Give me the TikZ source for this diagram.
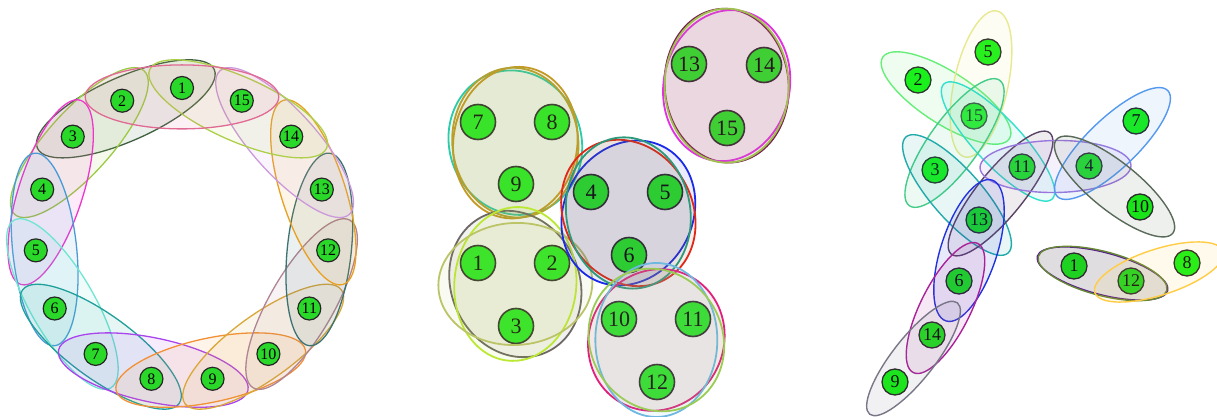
\documentclass[tikz,border=0pt]{standalone}
\usepackage{fontspec}
\setmainfont{Liberation Serif}
\usetikzlibrary{calc}

\pgfdeclarelayer{behind}
\pgfsetlayers{behind,main}

% vertex greens
\definecolor{ringgreen}{HTML}{2AD82A}
\definecolor{clustergreen}{HTML}{1EF61E}
\definecolor{spreadgreen}{HTML}{12F212}

% ring: edge k holds k, k+1, k+2
\definecolor{ringe1}{HTML}{3F6040}
\definecolor{ringe2}{HTML}{9BCB44}
\definecolor{ringe3}{HTML}{EE38CC}
\definecolor{ringe4}{HTML}{4A9AD8}
\definecolor{ringe5}{HTML}{6EE6D2}
\definecolor{ringe6}{HTML}{1FA09A}
\definecolor{ringe7}{HTML}{AA44EE}
\definecolor{ringe8}{HTML}{F39035}
\definecolor{ringe9}{HTML}{D9A838}
\definecolor{ringe10}{HTML}{B08494}
\definecolor{ringe11}{HTML}{3D7272}
\definecolor{ringe12}{HTML}{E8A020}
\definecolor{ringe13}{HTML}{CC99DD}
\definecolor{ringe14}{HTML}{AECF4A}
\definecolor{ringe15}{HTML}{E06A94}

% clusters
\definecolor{cA1}{HTML}{2CCCAA}
\definecolor{cA2}{HTML}{C49A26}
\definecolor{cA3}{HTML}{B6A030}
\definecolor{cB1}{HTML}{6E6864}
\definecolor{cB2}{HTML}{BBE833}
\definecolor{cB3}{HTML}{BCC468}
\definecolor{cC1}{HTML}{1A2AE8}
\definecolor{cC2}{HTML}{E02818}
\definecolor{cC3}{HTML}{2A9A7A}
\definecolor{cD1}{HTML}{E0207A}
\definecolor{cD2}{HTML}{70B8E0}
\definecolor{cD3}{HTML}{9ACC55}
\definecolor{cE1}{HTML}{7A2050}
\definecolor{cE2}{HTML}{E030E0}
\definecolor{cE3}{HTML}{A0C050}

% spread pairs
\definecolor{s1}{HTML}{66EE77}
\definecolor{s2}{HTML}{E8E890}
\definecolor{s3}{HTML}{33E0CC}
\definecolor{s4}{HTML}{44CC88}
\definecolor{s5}{HTML}{22AAAA}
\definecolor{s6}{HTML}{5A4466}
\definecolor{s7}{HTML}{9977DD}
\definecolor{s8}{HTML}{5599EE}
\definecolor{s9}{HTML}{5A6A5A}
\definecolor{s10}{HTML}{2233DD}
\definecolor{s11}{HTML}{AA2299}
\definecolor{s12}{HTML}{777788}
\definecolor{s13}{HTML}{551199}
\definecolor{s14}{HTML}{668833}
\definecolor{s15}{HTML}{FFCC44}

% ellipse round a, m, b (ends a and b)
\newcommand*{\tripleedge}[4]{%
	\path[ringedge=#1] let \p1=(#2), \p2=(#4),
		\n1={atan2(\y2-\y1,\x2-\x1)}, \n2={veclen(\x2-\x1,\y2-\y1)/2+37pt}
		in ($(#2)!0.5!(#4)!0.3!(#3)$) circle[x radius=\n2, y radius=32pt, rotate=\n1];
}
% ellipse round three nodes: colour, a, b, c, rx, ry, angle
\newcommand*{\blobedge}[7]{%
	\path[clusedge=#1] ($(#2)!0.5!(#3)!0.333!(#4)$) circle[x radius=#5pt, y radius=#6pt, rotate=#7];
}
% ellipse round two nodes: colour, a, b, extra, half width
\newcommand*{\pairedge}[5]{%
	\path[spreadedge=#1] let \p1=(#2), \p2=(#3),
		\n1={atan2(\y2-\y1,\x2-\x1)}, \n2={veclen(\x2-\x1,\y2-\y1)/2+#4pt}
		in ($(#2)!0.5!(#3)$) circle[x radius=\n2, y radius=#5pt, rotate=\n1];
}

\begin{document}
\begin{tikzpicture}
[
	x=1pt,
	y=-1pt,
	ringv/.style={circle,draw=black!85,fill=ringgreen,line width=1.2pt,minimum size=23pt,inner sep=0pt,font=\fontsize{16}{16}\selectfont},
	clusv/.style={circle,draw=black!85,fill=clustergreen,line width=1.6pt,minimum size=35pt,inner sep=0pt,font=\fontsize{22}{22}\selectfont},
	spreadv/.style={circle,draw=black!85,fill=spreadgreen,line width=1.3pt,minimum size=26pt,inner sep=0pt,font=\fontsize{18}{18}\selectfont},
	ringedge/.style={draw=#1,fill=#1,fill opacity=0.1,line width=1.3pt},
	clusedge/.style={draw=#1,fill=#1,fill opacity=0.09,line width=1.8pt},
	spreadedge/.style={draw=#1,fill=#1,fill opacity=0.1,line width=1.4pt}
]
	\useasboundingbox (0,0) rectangle (1217,417);

	% ring
	\foreach \k in {1,...,15} {
		\node[ringv] (r\k) at ({182+147*cos(66+24*\k)},{235-147*sin(66+24*\k)}) {\k};
	}
	\begin{pgfonlayer}{behind}
	\foreach \k in {1,...,15} {
		\pgfmathtruncatemacro{\kb}{mod(\k,15)+1}
		\pgfmathtruncatemacro{\kc}{mod(\k+1,15)+1}
		\tripleedge{ringe\k}{r\k}{r\kb}{r\kc}
	}
	\end{pgfonlayer}

	% clusters
	\foreach \k/\x/\y in {7/478/122, 8/552/122, 9/516/184, 4/591/192, 5/665/192,
		6/629/255, 1/478/263, 2/552/263, 3/516/326, 10/619/319, 11/693/319,
		12/657/382, 13/689/64, 14/764/65, 15/727/128} {
		\node[clusv] (c\k) at (\x,\y) {\k};
	}
	\blobedge{cA1}{c7}{c8}{c9}{66}{73}{20}
	\blobedge{cA2}{c7}{c8}{c9}{62}{76}{-8}
	\blobedge{cA3}{c7}{c8}{c9}{63}{75}{6}
	\blobedge{cB1}{c1}{c2}{c3}{64}{75}{25}
	\blobedge{cB2}{c1}{c2}{c3}{61}{77}{-5}
	\blobedge{cB3}{c1}{c2}{c3}{77}{61}{3}
	\blobedge{cC1}{c4}{c5}{c6}{64}{75}{-30}
	\blobedge{cC2}{c4}{c5}{c6}{64}{76}{30}
	\blobedge{cC3}{c4}{c5}{c6}{62}{76}{10}
	\blobedge{cD1}{c10}{c11}{c12}{67}{72}{-30}
	\blobedge{cD2}{c10}{c11}{c12}{61}{77}{0}
	\blobedge{cD3}{c10}{c11}{c12}{66}{73}{30}
	\blobedge{cE1}{c13}{c14}{c15}{62}{77}{5}
	\blobedge{cE2}{c13}{c14}{c15}{63}{76}{-12}
	\blobedge{cE3}{c13}{c14}{c15}{62}{77}{0}

	% spread
	\foreach \k/\x/\y in {5/988/52, 2/918/80, 15/974/116, 7/1136/121, 3/935/170,
		11/1022/167, 4/1089/166, 10/1140/207, 13/979/220, 1/1074/266,
		12/1131/281, 8/1187/263, 6/959/281, 14/932/335, 9/895/382} {
		\node[spreadv] (f\k) at (\x,\y) {\k};
	}
	\pairedge{s1}{f2}{f15}{42}{26}
	\pairedge{s2}{f5}{f15}{42}{27}
	\pairedge{s3}{f15}{f11}{44}{23}
	\pairedge{s4}{f3}{f15}{44}{25}
	\pairedge{s5}{f3}{f13}{44}{25}
	\pairedge{s6}{f11}{f13}{44}{23}
	\pairedge{s7}{f11}{f4}{42}{26}
	\pairedge{s8}{f4}{f7}{44}{25}
	\pairedge{s9}{f4}{f10}{42}{24}
	\pairedge{s10}{f13}{f6}{42}{28}
	\pairedge{s11}{f6}{f14}{42}{25}
	\pairedge{s12}{f14}{f9}{41}{21}
	\pairedge{s13}{f1}{f12}{38}{21}
	\pairedge{s14}{f1}{f12}{37}{22}
	\pairedge{s15}{f12}{f8}{38}{23}

\end{tikzpicture}
\end{document}
